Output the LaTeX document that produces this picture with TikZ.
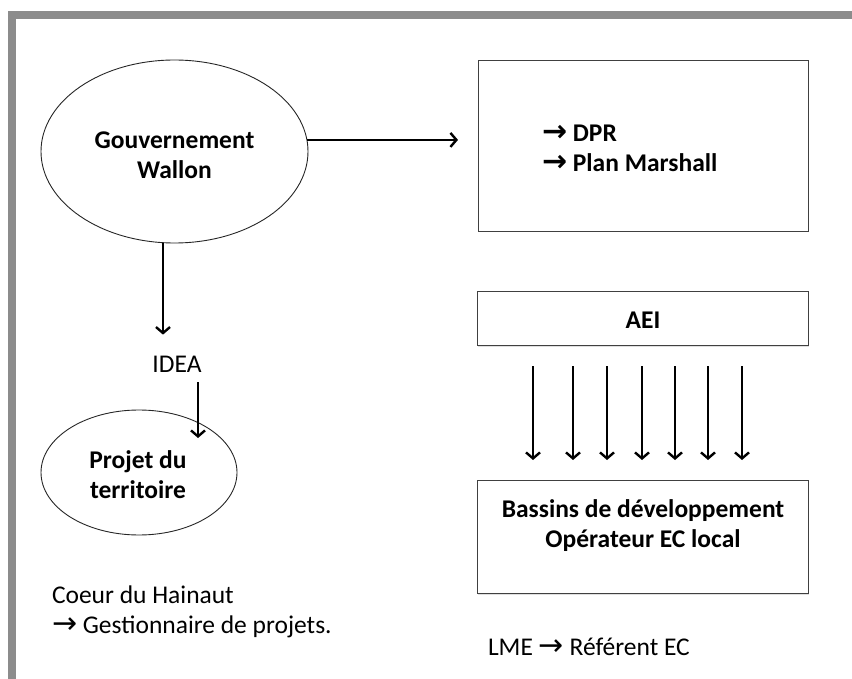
\documentclass[tikz,border=0pt]{standalone}
\usepackage{fontspec}
\setmainfont{Carlito}
\newfontfamily\arrowfont{DejaVu Sans}
\newcommand{\barr}{{\arrowfont\bfseries\fontsize{30}{30}\selectfont →}}
\newcommand{\rarr}{{\arrowfont\fontsize{30}{30}\selectfont →}}
\usetikzlibrary{arrows.meta,shapes.geometric,shadows}
\definecolor{framegray}{HTML}{8C8C8C}
\begin{document}
\begin{tikzpicture}[x=1pt,y=-1pt,
  every node/.style={inner sep=0pt, outer sep=0pt},
  oval/.style={draw=black!85, line width=0.9pt, ellipse, fill=white},
  panel/.style={draw=black!75, line width=0.9pt, rectangle, fill=white,
    drop shadow={shadow xshift=1pt,shadow yshift=-1.5pt,opacity=0.25}},
  arr/.style={line width=2.8pt, -{Straight Barb[length=6pt,width=14pt,line width=2.4pt]}},
  bigtxt/.style={font=\fontsize{25.5}{30}\selectfont\bfseries, align=center},
  smalltxt/.style={font=\fontsize{25.5}{30}\selectfont, align=left}
]
\useasboundingbox (0,0) rectangle (852,679);
\fill[framegray] (8,11) rectangle (852,19);
\fill[framegray] (8,11) rectangle (16,679);

% left column
\node[oval, minimum width=267pt, minimum height=183pt] (gw) at (174.5,151.5) {};
\node[bigtxt] (gwt) at (174.5,155) {Gouvernement\\Wallon};
\node[smalltxt, anchor=base] (idea) at (177,372) {IDEA};
\node[oval, minimum width=196pt, minimum height=125pt] (pt) at (139,472.5) {};
\node[bigtxt] (ptt) at (138,475) {Projet du\\territoire};
\node[smalltxt, anchor=west] (coeur) at (52,612) {Coeur du Hainaut\\\rarr{} Gestionnaire de projets.};

% right column
\node[panel, minimum width=330pt, minimum height=171pt] (dpr) at (643,145.5) {};
\node[bigtxt, anchor=west, align=left] (dprt) at (542,148.4) {\barr{} DPR\\\barr{} Plan Marshall};
\node[panel, minimum width=331pt, minimum height=54pt] (aei) at (642.5,318) {};
\node[bigtxt, anchor=base] (aeit) at (643,329) {AEI};
\node[panel, minimum width=331pt, minimum height=113pt] (bas) at (642.5,536.5) {};
\node[bigtxt] (bast) at (643,526) {Bassins de développement\\Opérateur EC local};
\node[smalltxt, anchor=base west] (lme) at (488,655) {LME \rarr{} Référent EC};

% connectors
\draw[arr, shorten >=20pt] (gw.5) -- (gw.5 -| dpr.west);
\draw[arr] ([shift={(-11.5,0)}]gw.south) -- ([shift={(-14,-21)}]idea.north);
\draw[arr] ([shift={(21,10)}]idea.base) -- ([shift={(59,28)}]pt.north);
\foreach \dx in {-109.5,-69.5,-35.5,-0.5,32.5,65.5,99.5}
  \draw[arr] ([shift={(\dx,21)}]aei.south) -- ([shift={(\dx,-20)}]bas.north);
\end{tikzpicture}
\end{document}
